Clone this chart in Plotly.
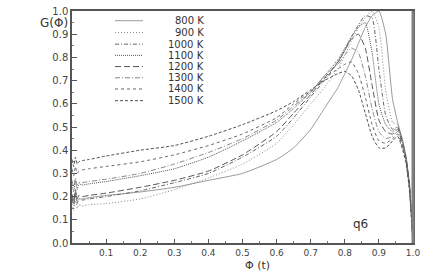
import plotly.graph_objects as go

# ---- data ----
phi = [0.0, 0.005, 0.01, 0.015, 0.02, 0.03, 0.05, 0.1, 0.2, 0.3, 0.4, 0.5, 0.6, 0.65, 0.7, 0.74,
       0.78, 0.80, 0.82, 0.84, 0.86, 0.88, 0.90, 0.92, 0.94, 0.955, 0.97, 0.98, 0.99, 1.0]

temps = ["800 K", "900 K", "1000 K", "1100 K", "1200 K", "1300 K", "1400 K", "1500 K"]

g_800 = [0.20, 0.17, 0.22, 0.18, 0.19, 0.19, 0.195, 0.205, 0.22, 0.24, 0.27, 0.30, 0.36, 0.41, 0.49, 0.58,
         0.67, 0.73, 0.79, 0.86, 0.93, 0.98, 1.00, 0.90, 0.62, 0.52, 0.44, 0.37, 0.25, 0.0]
g_900 = [0.17, 0.14, 0.19, 0.15, 0.165, 0.16, 0.165, 0.17, 0.19, 0.23, 0.28, 0.34, 0.43, 0.51, 0.60, 0.67,
         0.75, 0.81, 0.87, 0.93, 0.97, 1.00, 0.93, 0.66, 0.52, 0.51, 0.44, 0.37, 0.25, 0.0]
g_1000 = [0.19, 0.16, 0.21, 0.17, 0.19, 0.185, 0.19, 0.20, 0.225, 0.26, 0.30, 0.37, 0.46, 0.54, 0.63, 0.70,
          0.78, 0.83, 0.89, 0.94, 0.98, 0.97, 0.75, 0.55, 0.49, 0.50, 0.43, 0.36, 0.24, 0.0]
g_1100 = [0.25, 0.22, 0.27, 0.23, 0.255, 0.25, 0.255, 0.265, 0.29, 0.32, 0.37, 0.44, 0.52, 0.58, 0.65, 0.72,
          0.79, 0.84, 0.89, 0.93, 0.95, 0.82, 0.60, 0.51, 0.48, 0.50, 0.43, 0.36, 0.24, 0.0]
g_1200 = [0.21, 0.18, 0.23, 0.19, 0.205, 0.20, 0.205, 0.215, 0.24, 0.27, 0.31, 0.38, 0.48, 0.56, 0.64, 0.71,
          0.78, 0.83, 0.88, 0.90, 0.84, 0.68, 0.53, 0.48, 0.47, 0.49, 0.42, 0.36, 0.24, 0.0]
g_1300 = [0.27, 0.24, 0.28, 0.25, 0.26, 0.26, 0.265, 0.275, 0.30, 0.34, 0.39, 0.45, 0.53, 0.59, 0.65, 0.72,
          0.77, 0.81, 0.84, 0.82, 0.72, 0.58, 0.48, 0.45, 0.46, 0.48, 0.42, 0.35, 0.23, 0.0]
g_1400 = [0.32, 0.29, 0.33, 0.30, 0.31, 0.315, 0.32, 0.33, 0.35, 0.38, 0.42, 0.47, 0.54, 0.60, 0.655, 0.71,
          0.75, 0.77, 0.78, 0.73, 0.63, 0.51, 0.44, 0.43, 0.45, 0.47, 0.41, 0.35, 0.23, 0.0]
g_1500 = [0.36, 0.33, 0.37, 0.34, 0.35, 0.355, 0.36, 0.375, 0.40, 0.42, 0.46, 0.51, 0.57, 0.61, 0.66, 0.70,
          0.73, 0.74, 0.72, 0.66, 0.56, 0.46, 0.41, 0.41, 0.44, 0.46, 0.40, 0.34, 0.22, 0.0]

series = [g_800, g_900, g_1000, g_1100, g_1200, g_1300, g_1400, g_1500]

x_ticks = [0.1, 0.2, 0.3, 0.4, 0.5, 0.6, 0.7, 0.8, 0.9, 1.0]
y_ticks = [0.0, 0.1, 0.2, 0.3, 0.4, 0.5, 0.6, 0.7, 0.8, 0.9, 1.0]
minor_ticks = [0.05, 0.15, 0.25, 0.35, 0.45, 0.55, 0.65, 0.75, 0.85, 0.95]

# ---- styles ----
colors = ["#9a9a9a", "#8a8a8a", "#666666", "#555555", "#555555", "#888888", "#666666", "#505050"]
dashes = ["solid", "1px,2px", "4px,2px,1px,2px", "1px,1px", "6px,3px", "5px,2px,1px,2px", "3px,3px", "3px,2px"]

fig = go.Figure()
for name, g, c, d in zip(temps, series, colors, dashes):
    fig.add_trace(go.Scatter(x=phi, y=g, mode="lines", name=name,
                             line=dict(color=c, width=1, dash=d, shape="spline", smoothing=0.5),
                             showlegend=False))

# pixel -> paper helpers (plot area 72..413 x 5..243)
L, T, W, H = 72, 5, 341, 238
def px_x(p):
    return (p - L) / W
def px_y(p):
    return (T + H - p) / H

# manual compact legend (gnuplot style)
row_y = [15, 27, 39, 50.5, 62, 73.5, 85, 97]
shapes = []
annotations = []
for name, c, d, ry in zip(temps, colors, dashes, row_y):
    shapes.append(dict(type="line", xref="paper", yref="paper",
                       x0=px_x(115), x1=px_x(143), y0=px_y(ry), y1=px_y(ry),
                       line=dict(color=c, width=1, dash=d)))
    annotations.append(dict(text=name, xref="paper", yref="paper", x=px_x(206), y=px_y(ry),
                            xanchor="right", yanchor="middle", showarrow=False,
                            font=dict(family="DejaVu Sans", size=10, color="#333")))

# right frame, thick gray
shapes.append(dict(type="line", xref="paper", yref="paper", x0=1, x1=1, y0=0, y1=1,
                   line=dict(color="#808080", width=3)))

annotations += [
    dict(text="G(\u03a6)", xref="paper", yref="paper", x=px_x(70), y=px_y(17),
         xanchor="right", yanchor="middle", showarrow=False,
         font=dict(family="DejaVu Sans", size=12, color="#333")),
    dict(text="\u03a6 (t)", xref="paper", yref="paper", x=px_x(257), y=px_y(266),
         xanchor="center", yanchor="middle", showarrow=False,
         font=dict(family="DejaVu Sans", size=11, color="#333")),
    dict(text="q6", xref="paper", yref="paper", x=px_x(360), y=px_y(223),
         xanchor="center", yanchor="middle", showarrow=False,
         font=dict(family="DejaVu Sans", size=12, color="#333")),
]

fig.update_layout(
    width=436, height=273,
    margin=dict(l=72, r=23, t=5, b=30),
    paper_bgcolor="white", plot_bgcolor="white",
    font=dict(family="DejaVu Sans", size=10, color="#444"),
    shapes=shapes, annotations=annotations,
)
fig.update_xaxes(range=[0, 1], tickvals=x_ticks, ticktext=[f"{v:.1f}" for v in x_ticks],
                 ticks="inside", ticklen=4, tickcolor="#555",
                 minor=dict(tickvals=minor_ticks, ticks="inside", ticklen=2, tickcolor="#777"),
                 showline=True, linecolor="#555", linewidth=1.5, mirror=True,
                 showgrid=False, zeroline=False, tickfont=dict(size=9, color="#444"))
fig.update_yaxes(range=[0, 1], tickvals=y_ticks, ticktext=[f"{v:.1f}" for v in y_ticks],
                 ticks="inside", ticklen=5, tickcolor="#555",
                 minor=dict(tickvals=minor_ticks, ticks="inside", ticklen=2, tickcolor="#777"),
                 showline=True, linecolor="#555", linewidth=1.5, mirror=True,
                 showgrid=False, zeroline=False, tickfont=dict(size=10, color="#444"))

fig.write_html("out.html", config={"displayModeBar": False},
               post_script="document.body.style.margin='0';")
